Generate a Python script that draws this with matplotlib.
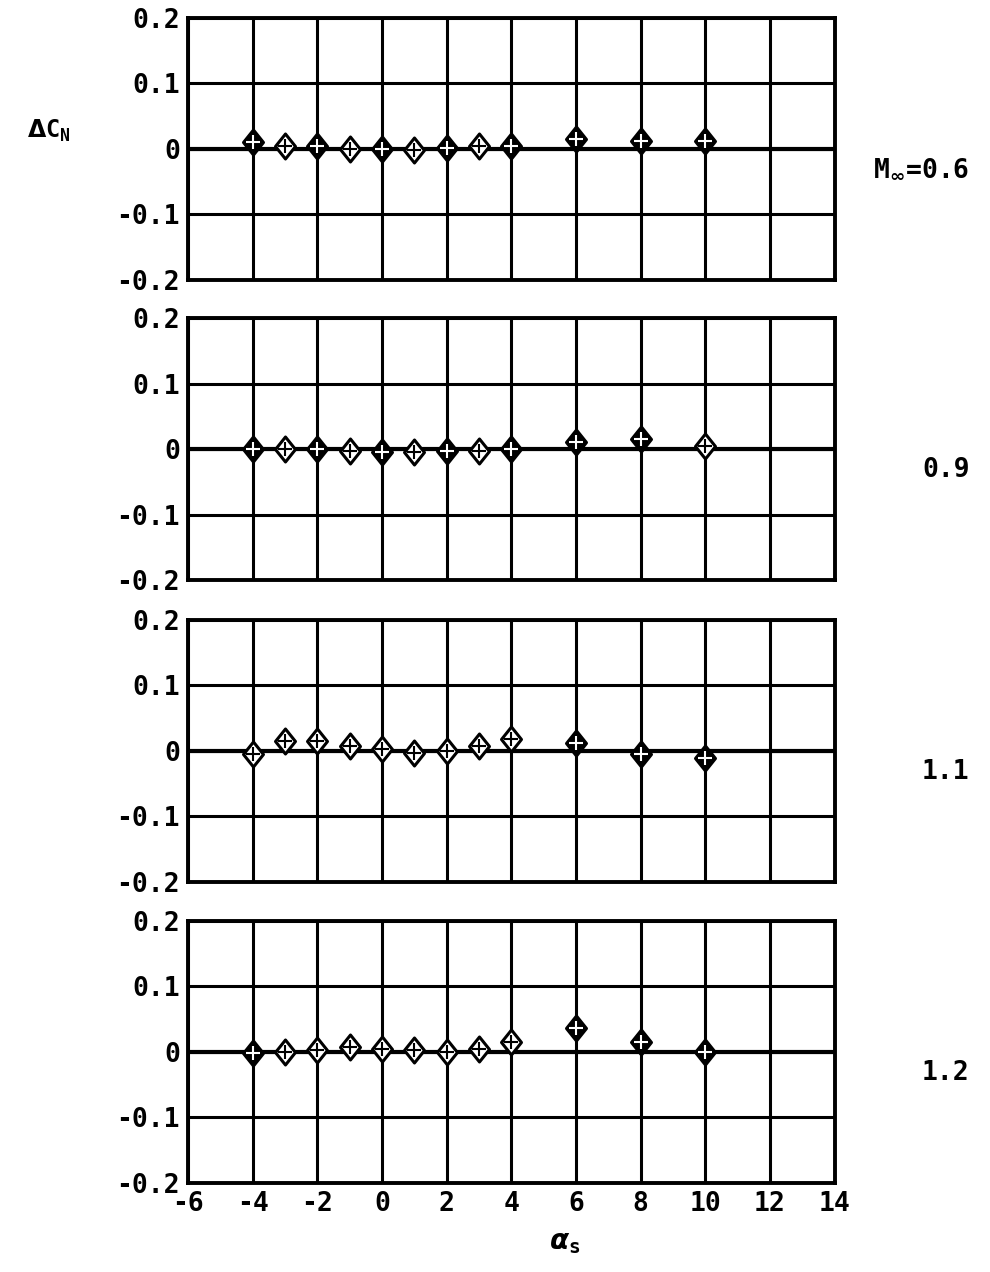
import matplotlib
matplotlib.use("Agg")
from matplotlib import pyplot as plt
from matplotlib.path import Path

# angle of attack, deg
alpha_s = [-4, -3, -2, -1, 0, 1, 2, 3, 4, 6, 8, 10]

# delta C_N per Mach number
dcn_06 = [0.010, 0.005, 0.005, 0.000, 0.000, -0.002, 0.002, 0.005, 0.005, 0.015, 0.012, 0.012]
dcn_09 = [0.000, 0.000, 0.000, -0.003, -0.005, -0.005, -0.003, -0.003, 0.000, 0.010, 0.015, 0.005]
dcn_11 = [-0.005, 0.015, 0.015, 0.008, 0.003, -0.003, 0.000, 0.008, 0.018, 0.012, -0.005, -0.010]
dcn_12 = [-0.002, 0.000, 0.003, 0.008, 0.005, 0.003, 0.000, 0.005, 0.015, 0.037, 0.015, 0.000]

mach_labels = ["M$_\\infty$=0.6", "0.9", "1.1", "1.2"]
series = [dcn_06, dcn_09, dcn_11, dcn_12]
# which points are drawn as solid symbols
filled = [
    [1, 0, 1, 0, 1, 0, 1, 0, 1, 1, 1, 1],
    [1, 0, 1, 0, 1, 0, 1, 0, 1, 1, 1, 0],
    [0, 0, 0, 0, 0, 0, 0, 0, 0, 1, 1, 1],
    [1, 0, 0, 0, 0, 0, 0, 0, 0, 1, 1, 1],
]

plt.rcParams['font.family'] = ['DejaVu Sans Mono', 'DejaVu Sans']
plt.rcParams['font.weight'] = 'bold'
plt.rcParams['axes.unicode_minus'] = False

# slightly tall diamond symbol
diamond = Path([(0, 1), (0.8, 0), (0, -1), (-0.8, 0), (0, 1)],
               [Path.MOVETO, Path.LINETO, Path.LINETO, Path.LINETO, Path.CLOSEPOLY])

fig = plt.figure(figsize=(9.9, 12.72), dpi=100)
bottoms = [0.780, 0.544, 0.3066, 0.070]
lw = 2.2

for i in range(4):
    ax = fig.add_axes([0.190, bottoms[i], 0.653, 0.206])
    ax.set_xlim(-6, 14)
    ax.set_ylim(-0.2, 0.2)
    ax.set_xticks(range(-6, 15, 2))
    ax.set_yticks([-0.2, -0.1, 0, 0.1, 0.2])
    ax.set_yticklabels(["-0.2", "-0.1", "0", "0.1", "0.2"])
    ax.grid(True, color="black", linewidth=lw)
    ax.axhline(0, color="black", linewidth=lw + 0.8, zorder=2)
    for s in ax.spines.values():
        s.set_linewidth(lw + 0.6)
    ax.tick_params(length=0, labelsize=19, pad=6)
    if i < 3:
        ax.set_xticklabels([])

    for x, y, f in zip(alpha_s, series[i], filled[i]):
        ax.plot(x, y, marker=diamond, markersize=18, markeredgewidth=2.2,
                markeredgecolor="black", markerfacecolor="black" if f else "white",
                zorder=4)
        ax.plot(x, y, marker="+", markersize=10, markeredgewidth=1.5,
                color="white" if f else "black", zorder=5)

    ax.text(1.209, 0.42, mach_labels[i], transform=ax.transAxes,
            fontsize=19, ha="right", va="center")

    if i == 0:
        ax.text(-0.215, 0.57, "$\\Delta$C$_\\mathregular{N}$", transform=ax.transAxes,
                fontsize=17, ha="center", va="center")

fig.text(565 / 990, 1 - 1242 / 1272, "$\\alpha_\\mathregular{s}$", fontsize=20,
         ha="center", va="center")

fig.savefig("out.png", dpi=100)
